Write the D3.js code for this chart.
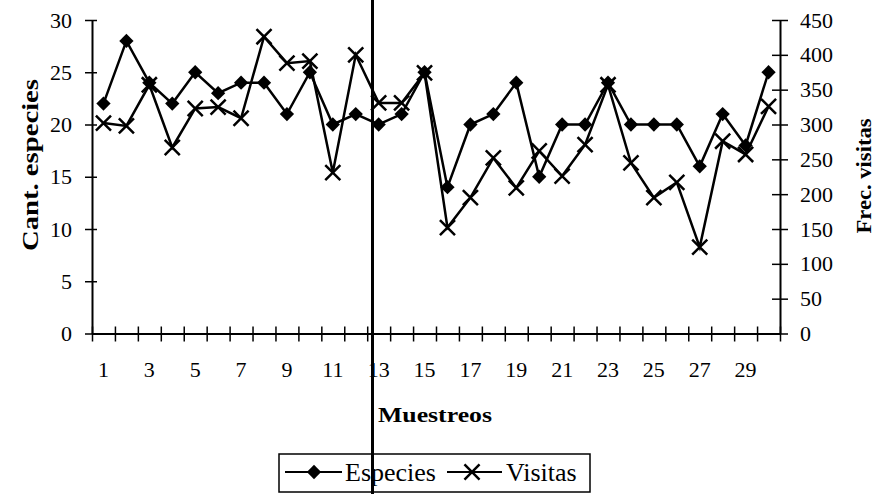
<!DOCTYPE html>
<html>
<head>
<meta charset="utf-8">
<script src="https://cdn.jsdelivr.net/npm/d3@7"></script>
<style>
  body { margin: 0; background: #fff; }
  svg text { font-family: "Liberation Serif", "Times New Roman", serif; fill: #000; }
</style>
</head>
<body>
<svg></svg>
<script>
// data
const muestreos = d3.range(1, 31);
const especies = [22, 28, 24, 22, 25, 23, 24, 24, 21, 25, 20, 21, 20, 21, 25,
                  14, 20, 21, 24, 15, 20, 20, 24, 20, 20, 20, 16, 21, 18, 25];
const visitas = [302, 298, 357, 267, 323, 325, 309, 426, 388, 391, 231, 400, 331, 331, 374,
                 152, 195, 252, 209, 262, 226, 271, 357, 245, 195, 217, 124, 276, 257, 326];
const leftTicks = [0, 5, 10, 15, 20, 25, 30];
const rightTicks = [0, 50, 100, 150, 200, 250, 300, 350, 400, 450];

let width = 878;
let height = 494;
let plotLeft = 92;
let plotRight = 780;
let plotTop = 20;
let plotBottom = 333.5;

let svg = d3.select('svg')
            .attr('width', width)
            .attr('height', height);

let xScale = d3.scaleBand()
               .domain(muestreos)
               .range([plotLeft, plotRight]);

let xBounds = d3.scaleLinear()
                .domain([0, muestreos.length])
                .range([plotLeft, plotRight]);

let yLeft = d3.scaleLinear().domain([0, 30]).range([plotBottom, plotTop]);
let yRight = d3.scaleLinear().domain([0, 450]).range([plotBottom, plotTop]);

let cx = (d, i) => xScale(muestreos[i]) + xScale.bandwidth() / 2;

// axes
let leftAxis = d3.axisLeft(yLeft).tickValues(leftTicks).tickSize(0).tickPadding(20);
let gl = svg.append('g').attr('transform', 'translate(' + plotLeft + ',0)').call(leftAxis);
gl.selectAll('.tick').append('line').attr('x1', -7).attr('x2', 5).attr('stroke', '#000').attr('stroke-width', 1.5);

let rightAxis = d3.axisRight(yRight).tickValues(rightTicks).tickSize(0).tickPadding(20);
let gr = svg.append('g').attr('transform', 'translate(' + plotRight + ',0)').call(rightAxis);
gr.selectAll('.tick').append('line').attr('x1', -8).attr('x2', 8).attr('stroke', '#000').attr('stroke-width', 1.5);

let boundsAxis = d3.axisBottom(xBounds).ticks(30).tickFormat('').tickSize(0);
let gb = svg.append('g').attr('transform', 'translate(0,' + plotBottom + ')').call(boundsAxis);
gb.selectAll('.tick').append('line').attr('y1', -7).attr('y2', 8).attr('stroke', '#000').attr('stroke-width', 1.5);

let labelAxis = d3.axisBottom(xScale)
                  .tickValues(muestreos.filter(d => d % 2 === 1))
                  .tickSize(0).tickPadding(28);
svg.append('g').attr('transform', 'translate(0,' + plotBottom + ')').call(labelAxis);

svg.selectAll('.domain').attr('stroke', '#000').attr('stroke-width', 2);
svg.selectAll('.tick text').style('font-size', '22px');

// axis titles
svg.append('text')
   .attr('transform', 'translate(38,165) rotate(-90)')
   .attr('text-anchor', 'middle')
   .attr('textLength', 172)
   .attr('lengthAdjust', 'spacingAndGlyphs')
   .style('font-weight', 'bold').style('font-size', '23px')
   .text('Cant. especies');

svg.append('text')
   .attr('transform', 'translate(871,176) rotate(-90)')
   .attr('text-anchor', 'middle')
   .attr('textLength', 115)
   .attr('lengthAdjust', 'spacingAndGlyphs')
   .style('font-weight', 'bold').style('font-size', '22px')
   .text('Frec. visitas');

svg.append('text')
   .attr('x', 378).attr('y', 422)
   .attr('textLength', 114)
   .attr('lengthAdjust', 'spacingAndGlyphs')
   .style('font-weight', 'bold').style('font-size', '22px')
   .text('Muestreos');

// series
let line = (scale, values) => d3.line()
    .x((d, i) => cx(d, i))
    .y(d => scale(d))(values);

svg.append('path').attr('d', line(yRight, visitas))
   .attr('fill', 'none').attr('stroke', '#000').attr('stroke-width', 2.5);
svg.append('path').attr('d', line(yLeft, especies))
   .attr('fill', 'none').attr('stroke', '#000').attr('stroke-width', 2.5);

let diamond = d3.symbol().type(d3.symbolDiamond2).size(130);
let cross = d3.symbol().type(d3.symbolX).size(150);

svg.selectAll('.esp')
   .data(especies).enter().append('path')
   .attr('class', 'esp')
   .attr('d', diamond)
   .attr('transform', (d, i) => 'translate(' + cx(d, i) + ',' + yLeft(d) + ')')
   .attr('fill', '#000');

svg.selectAll('.vis')
   .data(visitas).enter().append('path')
   .attr('class', 'vis')
   .attr('d', cross)
   .attr('transform', (d, i) => 'translate(' + cx(d, i) + ',' + yRight(d) + ')')
   .attr('fill', 'none').attr('stroke', '#000').attr('stroke-width', 2.5);

// legend
let lg = svg.append('g');
lg.append('rect').attr('x', 279).attr('y', 454).attr('width', 311).attr('height', 38)
  .attr('fill', '#fff').attr('stroke', '#000').attr('stroke-width', 1.5);
lg.append('line').attr('x1', 285).attr('x2', 342).attr('y1', 472).attr('y2', 472)
  .attr('stroke', '#000').attr('stroke-width', 2);
lg.append('path').attr('d', diamond).attr('transform', 'translate(314,472)').attr('fill', '#000');
lg.append('text').attr('x', 345).attr('y', 481).style('font-size', '26px').text('Especies');
lg.append('line').attr('x1', 447).attr('x2', 502).attr('y1', 472).attr('y2', 472)
  .attr('stroke', '#000').attr('stroke-width', 2);
lg.append('path').attr('d', cross).attr('transform', 'translate(472,472)')
  .attr('fill', 'none').attr('stroke', '#000').attr('stroke-width', 2.5);
lg.append('text').attr('x', 506).attr('y', 481).style('font-size', '26px').text('Visitas');

// vertical marker line at sample 13
svg.append('line')
   .attr('x1', 372.5).attr('x2', 372.5).attr('y1', 0).attr('y2', height)
   .attr('stroke', '#000').attr('stroke-width', 3);
</script>
</body>
</html>
